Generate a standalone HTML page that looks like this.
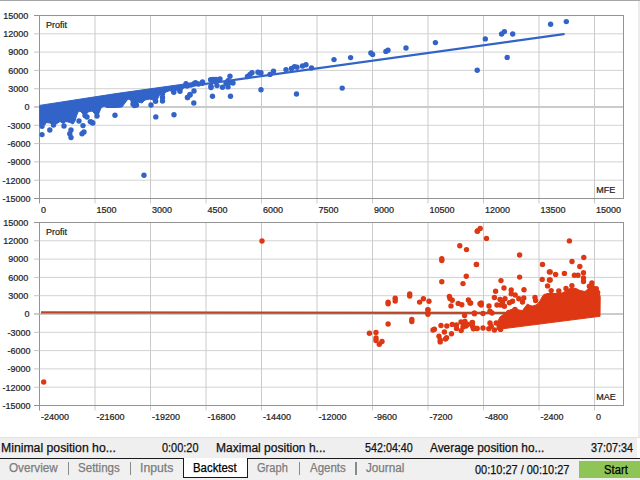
<!DOCTYPE html>
<html><head><meta charset="utf-8"><title>Backtest</title>
<style>
html,body{margin:0;padding:0;}
svg text{stroke:#1e1e1e;stroke-width:0.22px;}
body{width:640px;height:480px;overflow:hidden;background:#fff;font-family:"Liberation Sans",sans-serif;position:relative;}
#top{position:absolute;left:0;top:0;width:640px;height:1px;background:#a6a6a6;}
#rstrip{position:absolute;left:637.5px;top:1px;width:2.5px;height:437px;background:#ececec;}
#bline{position:absolute;left:0;top:437.3px;width:640px;height:1px;background:#e2e2e2;}
#status{position:absolute;left:0;top:438.3px;width:636.5px;height:19.5px;background:#efefef;}
#tabs{position:absolute;left:0;top:457.5px;width:640px;height:22.5px;background:#f0f0f0;}
.t{position:absolute;white-space:nowrap;line-height:14px;font-size:12.3px;color:#111;transform-origin:0 0;display:block;-webkit-text-stroke:0.25px currentColor;}
.sep{position:absolute;top:462px;width:1.1px;height:13px;background:#8a8a8a;}
#hl{position:absolute;left:0;top:457.7px;width:640px;height:1.6px;background:#1a1a1a;}
#act{position:absolute;left:183.1px;top:457.6px;width:62.8px;height:19.4px;background:#fff;border:1.5px solid #1a1a1a;border-top:none;box-sizing:content-box;}
#start{position:absolute;left:579.3px;top:460.8px;width:60.7px;height:17.4px;background:#8fc456;}
</style></head><body>
<svg width="640" height="438" viewBox="0 0 640 438" style="position:absolute;left:0;top:0" font-family="Liberation Sans, sans-serif" font-size="9px" fill="#1e1e1e">
<defs><clipPath id="c1"><rect x="39.2" y="15.5" width="584.3" height="183"/></clipPath><clipPath id="c2"><rect x="39.2" y="222.5" width="584.3" height="183"/></clipPath></defs>
<line x1="39.5" y1="33.80" x2="623.5" y2="33.80" stroke="#d2d2d2" stroke-width="1"/>
<line x1="39.5" y1="52.10" x2="623.5" y2="52.10" stroke="#d2d2d2" stroke-width="1"/>
<line x1="39.5" y1="70.40" x2="623.5" y2="70.40" stroke="#d2d2d2" stroke-width="1"/>
<line x1="39.5" y1="88.70" x2="623.5" y2="88.70" stroke="#d2d2d2" stroke-width="1"/>
<line x1="39.5" y1="107.00" x2="623.5" y2="107.00" stroke="#cbcbcb" stroke-width="1.8"/>
<line x1="39.5" y1="125.30" x2="623.5" y2="125.30" stroke="#d2d2d2" stroke-width="1"/>
<line x1="39.5" y1="143.60" x2="623.5" y2="143.60" stroke="#d2d2d2" stroke-width="1"/>
<line x1="39.5" y1="161.90" x2="623.5" y2="161.90" stroke="#d2d2d2" stroke-width="1"/>
<line x1="39.5" y1="180.20" x2="623.5" y2="180.20" stroke="#d2d2d2" stroke-width="1"/>
<line x1="95.00" y1="15.5" x2="95.00" y2="203.50" stroke="#cacaca" stroke-width="1"/>
<line x1="150.50" y1="15.5" x2="150.50" y2="203.50" stroke="#cacaca" stroke-width="1"/>
<line x1="206.00" y1="15.5" x2="206.00" y2="203.50" stroke="#cacaca" stroke-width="1"/>
<line x1="261.50" y1="15.5" x2="261.50" y2="203.50" stroke="#cacaca" stroke-width="1"/>
<line x1="317.00" y1="15.5" x2="317.00" y2="203.50" stroke="#cacaca" stroke-width="1"/>
<line x1="372.50" y1="15.5" x2="372.50" y2="203.50" stroke="#cacaca" stroke-width="1"/>
<line x1="428.00" y1="15.5" x2="428.00" y2="203.50" stroke="#cacaca" stroke-width="1"/>
<line x1="483.50" y1="15.5" x2="483.50" y2="203.50" stroke="#cacaca" stroke-width="1"/>
<line x1="539.00" y1="15.5" x2="539.00" y2="203.50" stroke="#cacaca" stroke-width="1"/>
<line x1="594.50" y1="15.5" x2="594.50" y2="203.50" stroke="#cacaca" stroke-width="1"/>
<rect x="39.5" y="15.5" width="584.0" height="183.00" fill="none" stroke="#939393" stroke-width="1"/>
<line x1="34.0" y1="15.50" x2="39.5" y2="15.50" stroke="#939393" stroke-width="1"/>
<text x="28.2" y="18.80" text-anchor="end">15000</text>
<line x1="34.0" y1="33.80" x2="39.5" y2="33.80" stroke="#c6c6c6" stroke-width="1"/>
<text x="28.2" y="37.10" text-anchor="end">12000</text>
<line x1="34.0" y1="52.10" x2="39.5" y2="52.10" stroke="#c6c6c6" stroke-width="1"/>
<text x="28.2" y="55.40" text-anchor="end">9000</text>
<line x1="34.0" y1="70.40" x2="39.5" y2="70.40" stroke="#c6c6c6" stroke-width="1"/>
<text x="28.2" y="73.70" text-anchor="end">6000</text>
<line x1="34.0" y1="88.70" x2="39.5" y2="88.70" stroke="#c6c6c6" stroke-width="1"/>
<text x="28.2" y="92.00" text-anchor="end">3000</text>
<line x1="34.0" y1="107.00" x2="39.5" y2="107.00" stroke="#c8c8c8" stroke-width="1.8"/>
<text x="29.4" y="110.30" text-anchor="end">0</text>
<line x1="34.0" y1="125.30" x2="39.5" y2="125.30" stroke="#c6c6c6" stroke-width="1"/>
<text x="30.5" y="128.60" text-anchor="end">-3000</text>
<line x1="34.0" y1="143.60" x2="39.5" y2="143.60" stroke="#c6c6c6" stroke-width="1"/>
<text x="30.5" y="146.90" text-anchor="end">-6000</text>
<line x1="34.0" y1="161.90" x2="39.5" y2="161.90" stroke="#c6c6c6" stroke-width="1"/>
<text x="30.5" y="165.20" text-anchor="end">-9000</text>
<line x1="34.0" y1="180.20" x2="39.5" y2="180.20" stroke="#c6c6c6" stroke-width="1"/>
<text x="30.5" y="183.50" text-anchor="end">-12000</text>
<line x1="34.0" y1="198.50" x2="39.5" y2="198.50" stroke="#939393" stroke-width="1"/>
<text x="30.5" y="201.80" text-anchor="end">-15000</text>
<line x1="39.5" y1="198.50" x2="39.5" y2="203.50" stroke="#939393" stroke-width="1"/>
<text x="41.10" y="213.10">0</text>
<text x="96.60" y="213.10">1500</text>
<text x="152.10" y="213.10">3000</text>
<text x="207.60" y="213.10">4500</text>
<text x="263.10" y="213.10">6000</text>
<text x="318.60" y="213.10">7500</text>
<text x="374.10" y="213.10">9000</text>
<text x="429.60" y="213.10">10500</text>
<text x="485.10" y="213.10">12000</text>
<text x="540.60" y="213.10">13500</text>
<text x="596.10" y="213.10">15000</text>
<text x="46" y="27.80">Profit</text>
<text x="596.2" y="192.50">MFE</text>
<line x1="39.5" y1="240.80" x2="623.5" y2="240.80" stroke="#d2d2d2" stroke-width="1"/>
<line x1="39.5" y1="259.10" x2="623.5" y2="259.10" stroke="#d2d2d2" stroke-width="1"/>
<line x1="39.5" y1="277.40" x2="623.5" y2="277.40" stroke="#d2d2d2" stroke-width="1"/>
<line x1="39.5" y1="295.70" x2="623.5" y2="295.70" stroke="#d2d2d2" stroke-width="1"/>
<line x1="39.5" y1="314.00" x2="623.5" y2="314.00" stroke="#cbcbcb" stroke-width="1.8"/>
<line x1="39.5" y1="332.30" x2="623.5" y2="332.30" stroke="#d2d2d2" stroke-width="1"/>
<line x1="39.5" y1="350.60" x2="623.5" y2="350.60" stroke="#d2d2d2" stroke-width="1"/>
<line x1="39.5" y1="368.90" x2="623.5" y2="368.90" stroke="#d2d2d2" stroke-width="1"/>
<line x1="39.5" y1="387.20" x2="623.5" y2="387.20" stroke="#d2d2d2" stroke-width="1"/>
<line x1="95.00" y1="222.5" x2="95.00" y2="410.50" stroke="#cacaca" stroke-width="1"/>
<line x1="150.50" y1="222.5" x2="150.50" y2="410.50" stroke="#cacaca" stroke-width="1"/>
<line x1="206.00" y1="222.5" x2="206.00" y2="410.50" stroke="#cacaca" stroke-width="1"/>
<line x1="261.50" y1="222.5" x2="261.50" y2="410.50" stroke="#cacaca" stroke-width="1"/>
<line x1="317.00" y1="222.5" x2="317.00" y2="410.50" stroke="#cacaca" stroke-width="1"/>
<line x1="372.50" y1="222.5" x2="372.50" y2="410.50" stroke="#cacaca" stroke-width="1"/>
<line x1="428.00" y1="222.5" x2="428.00" y2="410.50" stroke="#cacaca" stroke-width="1"/>
<line x1="483.50" y1="222.5" x2="483.50" y2="410.50" stroke="#cacaca" stroke-width="1"/>
<line x1="539.00" y1="222.5" x2="539.00" y2="410.50" stroke="#cacaca" stroke-width="1"/>
<line x1="594.50" y1="222.5" x2="594.50" y2="410.50" stroke="#cacaca" stroke-width="1"/>
<rect x="39.5" y="222.5" width="584.0" height="183.00" fill="none" stroke="#939393" stroke-width="1"/>
<line x1="34.0" y1="222.50" x2="39.5" y2="222.50" stroke="#939393" stroke-width="1"/>
<text x="28.2" y="225.80" text-anchor="end">15000</text>
<line x1="34.0" y1="240.80" x2="39.5" y2="240.80" stroke="#c6c6c6" stroke-width="1"/>
<text x="28.2" y="244.10" text-anchor="end">12000</text>
<line x1="34.0" y1="259.10" x2="39.5" y2="259.10" stroke="#c6c6c6" stroke-width="1"/>
<text x="28.2" y="262.40" text-anchor="end">9000</text>
<line x1="34.0" y1="277.40" x2="39.5" y2="277.40" stroke="#c6c6c6" stroke-width="1"/>
<text x="28.2" y="280.70" text-anchor="end">6000</text>
<line x1="34.0" y1="295.70" x2="39.5" y2="295.70" stroke="#c6c6c6" stroke-width="1"/>
<text x="28.2" y="299.00" text-anchor="end">3000</text>
<line x1="34.0" y1="314.00" x2="39.5" y2="314.00" stroke="#c8c8c8" stroke-width="1.8"/>
<text x="29.4" y="317.30" text-anchor="end">0</text>
<line x1="34.0" y1="332.30" x2="39.5" y2="332.30" stroke="#c6c6c6" stroke-width="1"/>
<text x="30.5" y="335.60" text-anchor="end">-3000</text>
<line x1="34.0" y1="350.60" x2="39.5" y2="350.60" stroke="#c6c6c6" stroke-width="1"/>
<text x="30.5" y="353.90" text-anchor="end">-6000</text>
<line x1="34.0" y1="368.90" x2="39.5" y2="368.90" stroke="#c6c6c6" stroke-width="1"/>
<text x="30.5" y="372.20" text-anchor="end">-9000</text>
<line x1="34.0" y1="387.20" x2="39.5" y2="387.20" stroke="#c6c6c6" stroke-width="1"/>
<text x="30.5" y="390.50" text-anchor="end">-12000</text>
<line x1="34.0" y1="405.50" x2="39.5" y2="405.50" stroke="#939393" stroke-width="1"/>
<text x="30.5" y="408.80" text-anchor="end">-15000</text>
<line x1="39.5" y1="405.50" x2="39.5" y2="410.50" stroke="#939393" stroke-width="1"/>
<text x="41.10" y="420.10">-24000</text>
<text x="96.60" y="420.10">-21600</text>
<text x="152.10" y="420.10">-19200</text>
<text x="207.60" y="420.10">-16800</text>
<text x="263.10" y="420.10">-14400</text>
<text x="318.60" y="420.10">-12000</text>
<text x="374.10" y="420.10">-9600</text>
<text x="429.60" y="420.10">-7200</text>
<text x="485.10" y="420.10">-4800</text>
<text x="540.60" y="420.10">-2400</text>
<text x="596.10" y="420.10">0</text>
<text x="46" y="234.80">Profit</text>
<text x="596.2" y="399.50">MAE</text>
<g clip-path="url(#c1)" fill="#3263c8" stroke="none">
<path d="M39.5,105.4 L116.0,93.6 L190.0,83.2 L190.0,87.0 L186.0,87.0 L183.0,88.5 L180.0,93.0 L176.5,90.0 L173.8,94.0 L170.0,90.5 L165.0,92.5 L160.0,94.0 L158.0,98.0 L155.6,103.0 L153.0,100.0 L150.0,99.0 L145.0,100.0 L142.0,103.0 L138.0,102.0 L136.0,106.0 L133.5,107.0 L131.0,100.0 L128.0,99.0 L125.0,103.0 L122.0,107.0 L116.0,107.5 L110.0,107.5 L107.0,107.5 L104.0,106.0 L101.0,108.0 L99.0,113.0 L97.0,117.5 L95.0,114.0 L92.0,111.0 L88.0,112.0 L85.0,116.0 L82.0,113.0 L80.0,111.0 L78.0,112.0 L76.5,116.0 L75.0,121.0 L73.0,124.0 L70.0,122.5 L66.0,121.5 L63.0,123.5 L60.0,121.5 L57.0,123.5 L53.5,125.5 L50.0,123.0 L45.0,122.5 L39.5,121.0 Z" stroke="#3263c8" stroke-width="1" stroke-linejoin="round"/>
<circle cx="42.0" cy="126.2" r="2.7"/>
<circle cx="42.0" cy="134.6" r="2.7"/>
<circle cx="41.0" cy="123.3" r="2.7"/>
<circle cx="43.5" cy="122.8" r="2.7"/>
<circle cx="49.8" cy="130.0" r="2.7"/>
<circle cx="53.5" cy="125.0" r="2.7"/>
<circle cx="64.0" cy="126.0" r="2.7"/>
<circle cx="71.0" cy="130.0" r="2.7"/>
<circle cx="69.8" cy="133.8" r="2.7"/>
<circle cx="71.0" cy="137.5" r="2.7"/>
<circle cx="83.0" cy="125.6" r="2.7"/>
<circle cx="84.0" cy="132.0" r="2.7"/>
<circle cx="82.0" cy="133.8" r="2.7"/>
<circle cx="91.6" cy="122.2" r="2.7"/>
<circle cx="90.3" cy="121.6" r="2.7"/>
<circle cx="92.8" cy="123.0" r="2.7"/>
<circle cx="79.0" cy="121.0" r="2.7"/>
<circle cx="97.0" cy="116.0" r="2.7"/>
<circle cx="85.0" cy="115.5" r="2.7"/>
<circle cx="87.0" cy="117.0" r="2.7"/>
<circle cx="115.0" cy="115.3" r="2.7"/>
<circle cx="133.0" cy="100.0" r="2.7"/>
<circle cx="133.0" cy="104.0" r="2.7"/>
<circle cx="134.5" cy="105.5" r="2.7"/>
<circle cx="136.5" cy="105.0" r="2.7"/>
<circle cx="151.0" cy="105.0" r="2.7"/>
<circle cx="155.6" cy="101.2" r="2.7"/>
<circle cx="162.5" cy="93.8" r="2.7"/>
<circle cx="162.5" cy="97.5" r="2.7"/>
<circle cx="162.5" cy="101.0" r="2.7"/>
<circle cx="155.8" cy="116.9" r="2.7"/>
<circle cx="174.0" cy="114.8" r="2.7"/>
<circle cx="173.8" cy="92.2" r="2.7"/>
<circle cx="180.0" cy="91.2" r="2.7"/>
<circle cx="187.5" cy="97.5" r="2.7"/>
<circle cx="190.0" cy="94.4" r="2.7"/>
<circle cx="144.0" cy="175.2" r="2.7"/>
<circle cx="186.0" cy="83.8" r="2.7"/>
<circle cx="187.0" cy="86.0" r="2.7"/>
<circle cx="195.5" cy="82.8" r="2.7"/>
<circle cx="194.0" cy="83.8" r="2.7"/>
<circle cx="202.5" cy="82.0" r="2.7"/>
<circle cx="202.5" cy="83.3" r="2.7"/>
<circle cx="198.5" cy="84.0" r="2.7"/>
<circle cx="191.0" cy="85.0" r="2.7"/>
<circle cx="194.0" cy="91.0" r="2.7"/>
<circle cx="190.0" cy="95.0" r="2.7"/>
<circle cx="187.5" cy="97.5" r="2.7"/>
<circle cx="193.8" cy="103.0" r="2.7"/>
<circle cx="210.6" cy="79.8" r="2.7"/>
<circle cx="213.0" cy="79.4" r="2.7"/>
<circle cx="216.0" cy="79.4" r="2.7"/>
<circle cx="220.0" cy="79.0" r="2.7"/>
<circle cx="216.0" cy="82.0" r="2.7"/>
<circle cx="211.0" cy="86.2" r="2.7"/>
<circle cx="211.0" cy="87.5" r="2.7"/>
<circle cx="217.0" cy="85.6" r="2.7"/>
<circle cx="222.5" cy="87.2" r="2.7"/>
<circle cx="212.5" cy="96.2" r="2.7"/>
<circle cx="230.0" cy="76.2" r="2.7"/>
<circle cx="228.0" cy="80.6" r="2.7"/>
<circle cx="226.0" cy="83.5" r="2.7"/>
<circle cx="230.0" cy="82.5" r="2.7"/>
<circle cx="233.0" cy="83.0" r="2.7"/>
<circle cx="228.0" cy="86.9" r="2.7"/>
<circle cx="230.5" cy="96.2" r="2.7"/>
<circle cx="247.5" cy="76.5" r="2.7"/>
<circle cx="250.0" cy="74.4" r="2.7"/>
<circle cx="252.0" cy="72.8" r="2.7"/>
<circle cx="258.0" cy="72.2" r="2.7"/>
<circle cx="261.0" cy="72.8" r="2.7"/>
<circle cx="261.0" cy="89.8" r="2.7"/>
<circle cx="270.0" cy="74.4" r="2.7"/>
<circle cx="273.5" cy="71.2" r="2.7"/>
<circle cx="286.0" cy="69.6" r="2.7"/>
<circle cx="291.5" cy="68.5" r="2.7"/>
<circle cx="294.5" cy="66.6" r="2.7"/>
<circle cx="297.0" cy="67.2" r="2.7"/>
<circle cx="302.5" cy="66.0" r="2.7"/>
<circle cx="306.0" cy="64.8" r="2.7"/>
<circle cx="311.5" cy="68.0" r="2.7"/>
<circle cx="334.0" cy="59.6" r="2.7"/>
<circle cx="296.5" cy="94.0" r="2.7"/>
<circle cx="350.6" cy="57.6" r="2.7"/>
<circle cx="370.9" cy="53.0" r="2.7"/>
<circle cx="372.6" cy="54.4" r="2.7"/>
<circle cx="385.9" cy="51.4" r="2.7"/>
<circle cx="388.0" cy="50.2" r="2.7"/>
<circle cx="406.0" cy="48.0" r="2.7"/>
<circle cx="435.4" cy="42.6" r="2.7"/>
<circle cx="342.2" cy="88.1" r="2.7"/>
<circle cx="485.3" cy="38.9" r="2.7"/>
<circle cx="501.6" cy="34.0" r="2.7"/>
<circle cx="504.4" cy="31.6" r="2.7"/>
<circle cx="512.7" cy="34.0" r="2.7"/>
<circle cx="507.2" cy="57.4" r="2.7"/>
<circle cx="477.2" cy="70.2" r="2.7"/>
<circle cx="550.6" cy="24.2" r="2.7"/>
<circle cx="566.3" cy="21.6" r="2.7"/>
<line x1="39.5" y1="107" x2="563.7" y2="34.2" stroke="#3263c8" stroke-width="2.2" stroke-linecap="round"/>
</g>
<g clip-path="url(#c2)" fill="#dd3813" stroke="none">
<line x1="41" y1="312.4" x2="596" y2="313" stroke="#bd4626" stroke-width="2.3"/>
<path d="M497.0,329.5 L600.0,316.3 L600.2,297.0 L599.5,294.0 L597.5,290.0 L595.5,287.0 L593.0,285.0 L590.0,286.5 L588.0,289.0 L585.0,291.5 L580.0,290.5 L576.0,288.5 L572.0,288.0 L569.0,289.0 L566.0,291.0 L562.0,293.0 L555.0,293.5 L548.0,293.5 L543.8,294.5 L541.5,298.0 L540.0,301.0 L538.0,303.5 L536.0,305.0 L532.5,306.0 L530.0,305.5 L527.5,304.0 L525.5,306.5 L522.5,310.5 L519.0,310.0 L515.0,308.5 L511.0,309.5 L507.5,311.5 L504.0,314.0 L500.0,317.0 L498.0,321.0 L497.0,326.0 Z" stroke="#dd3813" stroke-width="1" stroke-linejoin="round"/>
<circle cx="43.7" cy="382.0" r="2.7"/>
<circle cx="262.0" cy="241.0" r="2.7"/>
<circle cx="477.6" cy="230.9" r="2.7"/>
<circle cx="459.8" cy="245.7" r="2.7"/>
<circle cx="466.5" cy="249.6" r="2.7"/>
<circle cx="441.8" cy="258.8" r="2.7"/>
<circle cx="441.8" cy="260.5" r="2.7"/>
<circle cx="476.4" cy="264.4" r="2.7"/>
<circle cx="466.3" cy="276.2" r="2.7"/>
<circle cx="441.8" cy="281.7" r="2.7"/>
<circle cx="463.0" cy="283.6" r="2.7"/>
<circle cx="409.7" cy="294.0" r="2.7"/>
<circle cx="409.7" cy="296.0" r="2.7"/>
<circle cx="395.2" cy="298.2" r="2.7"/>
<circle cx="395.2" cy="301.0" r="2.7"/>
<circle cx="388.1" cy="302.1" r="2.7"/>
<circle cx="388.1" cy="303.8" r="2.7"/>
<circle cx="423.4" cy="298.8" r="2.7"/>
<circle cx="419.6" cy="302.1" r="2.7"/>
<circle cx="429.0" cy="301.2" r="2.7"/>
<circle cx="427.9" cy="309.6" r="2.7"/>
<circle cx="449.4" cy="296.5" r="2.7"/>
<circle cx="450.0" cy="298.4" r="2.7"/>
<circle cx="452.2" cy="300.2" r="2.7"/>
<circle cx="451.0" cy="305.9" r="2.7"/>
<circle cx="458.2" cy="303.4" r="2.7"/>
<circle cx="461.8" cy="304.8" r="2.7"/>
<circle cx="468.4" cy="300.0" r="2.7"/>
<circle cx="470.0" cy="303.0" r="2.7"/>
<circle cx="480.0" cy="303.8" r="2.7"/>
<circle cx="388.1" cy="324.0" r="2.7"/>
<circle cx="411.8" cy="319.4" r="2.7"/>
<circle cx="411.8" cy="321.6" r="2.7"/>
<circle cx="427.9" cy="310.0" r="2.7"/>
<circle cx="427.9" cy="314.3" r="2.7"/>
<circle cx="369.4" cy="333.2" r="2.7"/>
<circle cx="376.0" cy="332.5" r="2.7"/>
<circle cx="376.0" cy="338.0" r="2.7"/>
<circle cx="376.0" cy="340.5" r="2.7"/>
<circle cx="379.3" cy="344.3" r="2.7"/>
<circle cx="382.0" cy="341.5" r="2.7"/>
<circle cx="434.4" cy="329.3" r="2.7"/>
<circle cx="433.0" cy="330.0" r="2.7"/>
<circle cx="441.0" cy="325.5" r="2.7"/>
<circle cx="446.8" cy="326.0" r="2.7"/>
<circle cx="444.4" cy="332.0" r="2.7"/>
<circle cx="439.0" cy="336.2" r="2.7"/>
<circle cx="440.2" cy="340.0" r="2.7"/>
<circle cx="440.2" cy="341.9" r="2.7"/>
<circle cx="446.6" cy="337.8" r="2.7"/>
<circle cx="445.5" cy="339.0" r="2.7"/>
<circle cx="451.5" cy="333.8" r="2.7"/>
<circle cx="452.2" cy="324.4" r="2.7"/>
<circle cx="456.5" cy="325.0" r="2.7"/>
<circle cx="456.5" cy="328.4" r="2.7"/>
<circle cx="464.6" cy="315.6" r="2.7"/>
<circle cx="474.4" cy="313.8" r="2.7"/>
<circle cx="461.0" cy="322.0" r="2.7"/>
<circle cx="464.0" cy="324.0" r="2.7"/>
<circle cx="463.0" cy="327.0" r="2.7"/>
<circle cx="466.0" cy="326.0" r="2.7"/>
<circle cx="461.2" cy="330.6" r="2.7"/>
<circle cx="465.0" cy="321.5" r="2.7"/>
<circle cx="467.5" cy="324.5" r="2.7"/>
<circle cx="472.0" cy="322.8" r="2.7"/>
<circle cx="473.4" cy="328.8" r="2.7"/>
<circle cx="477.0" cy="328.4" r="2.7"/>
<circle cx="472.5" cy="326.0" r="2.7"/>
<circle cx="477.2" cy="231.2" r="2.7"/>
<circle cx="480.2" cy="228.4" r="2.7"/>
<circle cx="486.5" cy="238.4" r="2.7"/>
<circle cx="519.6" cy="255.0" r="2.7"/>
<circle cx="476.5" cy="264.5" r="2.7"/>
<circle cx="542.5" cy="264.4" r="2.7"/>
<circle cx="519.6" cy="277.1" r="2.7"/>
<circle cx="501.0" cy="280.6" r="2.7"/>
<circle cx="542.2" cy="279.4" r="2.7"/>
<circle cx="549.4" cy="271.9" r="2.7"/>
<circle cx="549.4" cy="280.0" r="2.7"/>
<circle cx="547.5" cy="285.9" r="2.7"/>
<circle cx="504.0" cy="288.0" r="2.7"/>
<circle cx="495.6" cy="291.2" r="2.7"/>
<circle cx="511.2" cy="290.0" r="2.7"/>
<circle cx="511.2" cy="293.8" r="2.7"/>
<circle cx="524.0" cy="289.8" r="2.7"/>
<circle cx="515.2" cy="295.0" r="2.7"/>
<circle cx="494.4" cy="297.5" r="2.7"/>
<circle cx="500.0" cy="299.4" r="2.7"/>
<circle cx="505.0" cy="298.8" r="2.7"/>
<circle cx="518.8" cy="298.8" r="2.7"/>
<circle cx="523.8" cy="298.0" r="2.7"/>
<circle cx="512.5" cy="301.2" r="2.7"/>
<circle cx="509.4" cy="302.8" r="2.7"/>
<circle cx="522.5" cy="302.0" r="2.7"/>
<circle cx="535.0" cy="297.5" r="2.7"/>
<circle cx="535.6" cy="300.6" r="2.7"/>
<circle cx="481.2" cy="303.0" r="2.7"/>
<circle cx="481.2" cy="305.0" r="2.7"/>
<circle cx="470.6" cy="303.0" r="2.7"/>
<circle cx="489.0" cy="306.0" r="2.7"/>
<circle cx="497.0" cy="305.0" r="2.7"/>
<circle cx="500.6" cy="305.0" r="2.7"/>
<circle cx="504.4" cy="306.2" r="2.7"/>
<circle cx="502.5" cy="302.5" r="2.7"/>
<circle cx="515.0" cy="309.4" r="2.7"/>
<circle cx="474.4" cy="313.0" r="2.7"/>
<circle cx="483.0" cy="313.5" r="2.7"/>
<circle cx="490.0" cy="311.2" r="2.7"/>
<circle cx="492.0" cy="313.0" r="2.7"/>
<circle cx="508.8" cy="312.5" r="2.7"/>
<circle cx="472.5" cy="322.5" r="2.7"/>
<circle cx="473.0" cy="327.0" r="2.7"/>
<circle cx="477.0" cy="328.5" r="2.7"/>
<circle cx="483.0" cy="328.0" r="2.7"/>
<circle cx="490.0" cy="323.0" r="2.7"/>
<circle cx="496.2" cy="323.0" r="2.7"/>
<circle cx="488.8" cy="328.8" r="2.7"/>
<circle cx="494.4" cy="330.0" r="2.7"/>
<circle cx="500.6" cy="329.4" r="2.7"/>
<circle cx="491.2" cy="326.2" r="2.7"/>
<circle cx="569.4" cy="240.9" r="2.7"/>
<circle cx="583.8" cy="257.5" r="2.7"/>
<circle cx="572.0" cy="261.5" r="2.7"/>
<circle cx="579.8" cy="266.5" r="2.7"/>
<circle cx="550.2" cy="271.9" r="2.7"/>
<circle cx="555.6" cy="274.4" r="2.7"/>
<circle cx="564.4" cy="273.4" r="2.7"/>
<circle cx="574.4" cy="275.2" r="2.7"/>
<circle cx="578.0" cy="275.2" r="2.7"/>
<circle cx="583.5" cy="272.8" r="2.7"/>
<circle cx="583.5" cy="278.0" r="2.7"/>
<circle cx="583.5" cy="281.5" r="2.7"/>
<circle cx="550.2" cy="280.0" r="2.7"/>
<circle cx="566.0" cy="288.5" r="2.7"/>
<circle cx="558.8" cy="291.0" r="2.7"/>
<circle cx="551.2" cy="290.6" r="2.7"/>
<circle cx="571.9" cy="285.6" r="2.7"/>
<circle cx="591.9" cy="283.0" r="2.7"/>
<circle cx="589.4" cy="286.2" r="2.7"/>
<circle cx="596.3" cy="288.8" r="2.7"/>
<circle cx="597.6" cy="292.5" r="2.7"/>
</g>
</svg>
<div id="top"></div><div id="rstrip"></div><div id="bline"></div>
<div id="status"></div>
<div id="tabs"></div>
<div id="hl"></div>
<div id="act"></div>
<div id="start"></div>
<span class="t" style="left:0.7px;top:441.0px;transform:scaleX(0.9947);">Minimal position ho...</span>
<span class="t" style="left:161.5px;top:441.0px;transform:scaleX(0.8896);">0:00:20</span>
<span class="t" style="left:215.6px;top:441.0px;transform:scaleX(0.9778);">Maximal position h...</span>
<span class="t" style="left:365.4px;top:441.0px;transform:scaleX(0.8736);">542:04:40</span>
<span class="t" style="left:430.3px;top:441.0px;transform:scaleX(0.9635);">Average position ho...</span>
<span class="t" style="left:591.1px;top:441.0px;transform:scaleX(0.8794);">37:07:34</span>
<span class="t" style="left:9.4px;top:460.5px;transform:scaleX(0.9522);color:#7c7c7c;">Overview</span>
<div class="sep" style="left:68.20px"></div>
<span class="t" style="left:78.4px;top:460.5px;transform:scaleX(0.9406);color:#7c7c7c;">Settings</span>
<div class="sep" style="left:129.95px"></div>
<span class="t" style="left:139.9px;top:460.5px;transform:scaleX(0.9940);color:#7c7c7c;">Inputs</span>
<span class="t" style="left:257.4px;top:460.5px;transform:scaleX(0.9009);color:#7c7c7c;">Graph</span>
<div class="sep" style="left:298.95px"></div>
<span class="t" style="left:309.9px;top:460.5px;transform:scaleX(0.9348);color:#7c7c7c;">Agents</span>
<div class="sep" style="left:355.45px"></div>
<span class="t" style="left:365.8px;top:460.5px;transform:scaleX(0.9518);color:#7c7c7c;">Journal</span>
<span class="t" style="left:475.3px;top:462.5px;transform:scaleX(0.8907);">00:10:27 / 00:10:27</span>
<span class="t" style="left:193.0px;top:460.5px;transform:scaleX(0.9264);color:#000;">Backtest</span>
<span class="t" style="left:604.4px;top:462.5px;transform:scaleX(0.9159);color:#000;">Start</span>
</body></html>
